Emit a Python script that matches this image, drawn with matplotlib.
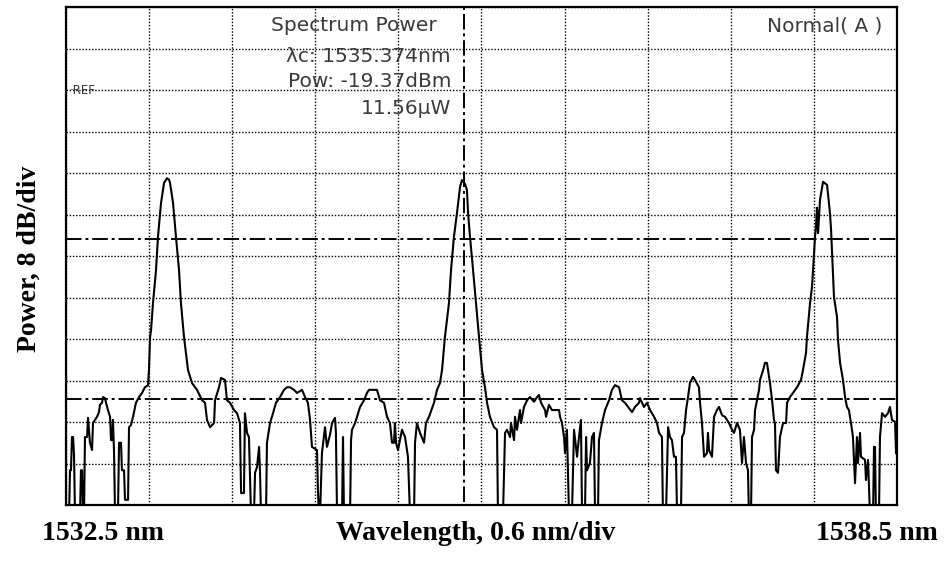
import matplotlib
matplotlib.use('Agg')
import matplotlib.pyplot as plt
import numpy as np

# OSA trace: wavelength (nm) and power (dBm), -84 = below display floor
wavelength = [
    1532.500, 1532.522, 1532.529, 1532.536, 1532.543, 1532.551, 1532.558, 1532.565, 1532.601, 1532.608,
    1532.616, 1532.623, 1532.630, 1532.637, 1532.652, 1532.659, 1532.673, 1532.688, 1532.695, 1532.709,
    1532.724, 1532.738, 1532.745, 1532.760, 1532.767, 1532.782, 1532.789, 1532.803, 1532.818, 1532.825,
    1532.832, 1532.839, 1532.847, 1532.854, 1532.875, 1532.883, 1532.897, 1532.904, 1532.919, 1532.926,
    1532.948, 1532.955, 1532.969, 1532.984, 1533.005, 1533.027, 1533.049, 1533.070, 1533.092, 1533.099,
    1533.107, 1533.114, 1533.128, 1533.150, 1533.164, 1533.186, 1533.208, 1533.229, 1533.244, 1533.251,
    1533.273, 1533.294, 1533.316, 1533.330, 1533.352, 1533.381, 1533.410, 1533.446, 1533.482, 1533.504,
    1533.518, 1533.540, 1533.569, 1533.576, 1533.605, 1533.619, 1533.648, 1533.662, 1533.684, 1533.713,
    1533.735, 1533.756, 1533.764, 1533.785, 1533.792, 1533.807, 1533.821, 1533.829, 1533.836, 1533.857,
    1533.865, 1533.879, 1533.894, 1533.901, 1533.908, 1533.944, 1533.951, 1533.973, 1533.995, 1534.016,
    1534.045, 1534.074, 1534.096, 1534.117, 1534.146, 1534.168, 1534.204, 1534.226, 1534.247, 1534.262,
    1534.276, 1534.312, 1534.319, 1534.327, 1534.334, 1534.348, 1534.370, 1534.384, 1534.406, 1534.421,
    1534.442, 1534.449, 1534.457, 1534.493, 1534.500, 1534.507, 1534.551, 1534.558, 1534.565, 1534.587,
    1534.601, 1534.623, 1534.652, 1534.673, 1534.688, 1534.745, 1534.767, 1534.796, 1534.818, 1534.839,
    1534.854, 1534.868, 1534.875, 1534.883, 1534.897, 1534.926, 1534.948, 1534.969, 1534.984, 1535.013,
    1535.020, 1535.034, 1535.056, 1535.085, 1535.099, 1535.121, 1535.157, 1535.179, 1535.200, 1535.215,
    1535.236, 1535.265, 1535.280, 1535.301, 1535.323, 1535.345, 1535.359, 1535.381, 1535.395, 1535.403,
    1535.417, 1535.439, 1535.460, 1535.482, 1535.504, 1535.525, 1535.540, 1535.561, 1535.590, 1535.612,
    1535.619, 1535.655, 1535.670, 1535.684, 1535.706, 1535.713, 1535.735, 1535.742, 1535.756, 1535.778,
    1535.785, 1535.807, 1535.829, 1535.850, 1535.879, 1535.901, 1535.915, 1535.930, 1535.959, 1535.966,
    1535.987, 1536.009, 1536.060, 1536.067, 1536.081, 1536.096, 1536.103, 1536.117, 1536.132, 1536.153,
    1536.168, 1536.190, 1536.204, 1536.218, 1536.226, 1536.247, 1536.255, 1536.262, 1536.283, 1536.298,
    1536.312, 1536.320, 1536.341, 1536.348, 1536.370, 1536.392, 1536.421, 1536.442, 1536.464, 1536.493,
    1536.514, 1536.536, 1536.587, 1536.608, 1536.637, 1536.644, 1536.673, 1536.695, 1536.717, 1536.746,
    1536.767, 1536.782, 1536.803, 1536.810, 1536.832, 1536.847, 1536.861, 1536.875, 1536.890, 1536.904,
    1536.912, 1536.940, 1536.948, 1536.962, 1536.977, 1536.991, 1537.005, 1537.027, 1537.042, 1537.070,
    1537.078, 1537.092, 1537.107, 1537.128, 1537.135, 1537.143, 1537.164, 1537.179, 1537.200, 1537.215,
    1537.237, 1537.258, 1537.287, 1537.309, 1537.323, 1537.345, 1537.366, 1537.381, 1537.395, 1537.410,
    1537.424, 1537.431, 1537.446, 1537.453, 1537.468, 1537.475, 1537.504, 1537.511, 1537.533, 1537.547,
    1537.561, 1537.569, 1537.583, 1537.598, 1537.612, 1537.619, 1537.626, 1537.641, 1537.655, 1537.677,
    1537.699, 1537.706, 1537.727, 1537.749, 1537.778, 1537.807, 1537.821, 1537.843, 1537.850, 1537.872,
    1537.886, 1537.894, 1537.901, 1537.908, 1537.915, 1537.922, 1537.930, 1537.944, 1537.966, 1537.995,
    1538.009, 1538.016, 1538.024, 1538.031, 1538.038, 1538.045, 1538.067, 1538.074, 1538.089, 1538.110,
    1538.125, 1538.139, 1538.153, 1538.175, 1538.182, 1538.197, 1538.211, 1538.218, 1538.233, 1538.240,
    1538.269, 1538.276, 1538.291, 1538.305, 1538.327, 1538.334, 1538.341, 1538.348, 1538.370, 1538.377,
    1538.392, 1538.413, 1538.435, 1538.449, 1538.464, 1538.486, 1538.493,
]
power = [
    -84, -84, -75.3, -75.3, -68.9, -68.9, -72.4, -84, -84, -75.3,
    -75.3, -84, -84, -68.9, -68.9, -65.2, -70.0, -71.4, -66.2, -65.6,
    -65.0, -64.1, -62.7, -62.3, -61.2, -61.4, -62.3, -63.7, -65.0, -69.5,
    -69.5, -65.6, -72.0, -84, -84, -70.0, -70.0, -75.3, -75.3, -81.0,
    -81.0, -67.0, -66.6, -65.0, -62.3, -61.2, -60.4, -59.3, -58.9, -56.0,
    -49.6, -48.3, -43.1, -36.7, -30.3, -23.8, -19.9, -19.0, -19.3, -19.9,
    -23.8, -30.3, -36.7, -43.1, -49.6, -56.0, -58.5, -59.8, -61.8, -62.3,
    -65.6, -67.0, -66.2, -61.8, -59.3, -57.5, -57.9, -61.8, -62.3, -63.7,
    -64.3, -66.2, -79.7, -79.7, -64.3, -68.1, -68.9, -77.2, -84, -84,
    -75.8, -74.7, -70.8, -75.8, -84, -84, -70.0, -66.2, -64.3, -62.3,
    -61.2, -59.8, -59.3, -59.3, -59.8, -60.4, -59.8, -61.2, -62.3, -65.6,
    -70.8, -71.4, -79.1, -84, -84, -72.0, -67.0, -70.8, -68.5, -66.2,
    -65.2, -68.1, -84, -84, -68.9, -84, -84, -69.5, -67.5, -66.2,
    -65.0, -63.1, -61.8, -60.4, -59.8, -59.8, -61.8, -62.3, -65.0, -66.2,
    -70.0, -70.0, -66.2, -70.0, -71.4, -67.5, -68.9, -72.7, -84, -84,
    -70.0, -66.2, -68.1, -70.0, -66.2, -65.0, -62.3, -59.8, -58.5, -56.0,
    -49.6, -43.1, -36.7, -30.3, -25.7, -20.7, -19.37, -20.1, -21.3, -25.7,
    -30.3, -36.7, -43.1, -49.6, -56.0, -59.3, -62.3, -65.0, -67.0, -67.5,
    -84, -84, -68.1, -67.5, -68.9, -66.2, -69.5, -65.0, -67.5, -63.7,
    -66.2, -63.1, -61.8, -61.2, -62.1, -61.2, -60.8, -62.3, -63.7, -65.0,
    -62.7, -63.7, -63.7, -65.0, -66.2, -68.9, -72.0, -67.5, -84, -84,
    -67.5, -72.7, -68.9, -65.6, -84, -84, -68.9, -75.3, -73.9, -68.9,
    -68.1, -84, -84, -69.5, -66.2, -63.7, -61.8, -59.8, -58.9, -59.3,
    -61.8, -62.3, -64.1, -63.1, -62.3, -61.4, -63.1, -62.3, -63.7, -65.0,
    -66.2, -68.1, -68.9, -84, -84, -67.0, -68.9, -69.5, -72.7, -72.7,
    -84, -84, -68.9, -68.1, -63.7, -61.2, -58.5, -57.3, -57.9, -59.3,
    -62.3, -66.2, -72.7, -72.0, -68.1, -71.4, -72.7, -65.0, -63.7, -63.1,
    -64.7, -65.0, -66.2, -67.5, -68.1, -66.2, -67.5, -73.9, -68.9, -73.9,
    -75.3, -84, -84, -68.9, -67.5, -63.7, -59.8, -57.9, -56.0, -54.6,
    -54.6, -56.0, -58.5, -61.8, -65.6, -66.2, -75.3, -75.8, -68.9, -66.2,
    -66.2, -62.3, -61.2, -60.4, -59.3, -57.9, -56.0, -52.7, -49.6, -43.1,
    -40.0, -36.7, -33.4, -30.3, -28.4, -24.7, -29.6, -23.2, -19.7, -20.3,
    -23.8, -25.7, -29.0, -33.4, -38.0, -41.9, -45.8, -50.2, -54.6, -57.9,
    -61.2, -63.1, -63.7, -67.5, -68.9, -77.8, -68.9, -73.9, -68.1, -72.7,
    -73.3, -77.2, -73.3, -84, -84, -70.8, -70.8, -84, -84, -68.9,
    -64.3, -65.0, -64.3, -63.1, -65.6, -66.0, -72.0,
]

start_wl, stop_wl = 1532.5, 1538.5
nm_per_div = 0.6
db_per_div = 8
ref_level = -2.0            # dBm, second grid line from the top
threshold_levels = [-30.7, -61.6]
marker_wl = 1535.374
marker_lines = ['Spectrum Power', 'λc: 1535.374nm', 'Pow: -19.37dBm', '11.56μW']

fig = plt.figure(figsize=(9.46, 5.61), dpi=100)
ax = fig.add_axes([66 / 946, 56 / 561, 831 / 946, 498 / 561])

ax.plot(wavelength, power, color='black', lw=1.5, zorder=3)

ax.set_xlim(start_wl, stop_wl)
ax.set_ylim(ref_level - 10 * db_per_div, ref_level + 2 * db_per_div)
ax.set_xticks(start_wl + nm_per_div * np.arange(11))
ax.set_yticks(ref_level - 10 * db_per_div + db_per_div * np.arange(13))
ax.grid(True, color='black', linestyle=(0, (1, 1.3)), lw=1.0)
ax.set_axisbelow(True)
ax.tick_params(length=0, labelbottom=False, labelleft=False)
for s in ax.spines.values():
    s.set_linewidth(1.6)

dashdot = (0, (8, 2, 1.5, 2))
for lvl in threshold_levels:
    ax.axhline(lvl, color='black', lw=1.4, linestyle=dashdot, zorder=2)
ax.axvline(marker_wl, ymin=0.006, color='black', lw=1.4, linestyle=dashdot, zorder=2)

# on-screen annotations of the analyser
lcd = dict(family='DejaVu Sans', fontsize=14.5, color='#3a3a3a', transform=ax.transAxes, va='center')
ax.text(0.4465, 0.963, marker_lines[0], ha='right', **lcd)
ax.text(0.4633, 0.901, marker_lines[1], ha='right', **lcd)
ax.text(0.4633, 0.851, marker_lines[2], ha='right', **lcd)
ax.text(0.4633, 0.797, marker_lines[3], ha='right', **lcd)
ax.text(0.983, 0.961, 'Normal( A )', ha='right', **lcd)
ax.text(0.004, 0.833, '·REF', ha='left', va='center', fontsize=8.5, color='#333333',
        transform=ax.transAxes, family='DejaVu Sans')

lab = dict(family='Liberation Serif', fontweight='bold', fontsize=20, color='black')
fig.text(29 / 946, 1 - 259 / 561, 'Power, 8 dB/div', rotation=90, ha='center', va='center', **lab)
fig.text(103 / 946, 1 - 534 / 561, '1532.5 nm', ha='center', va='center', **lab)
fig.text(476 / 946, 1 - 534 / 561, 'Wavelength, 0.6 nm/div', ha='center', va='center', **lab)
fig.text(877 / 946, 1 - 534 / 561, '1538.5 nm', ha='center', va='center', **lab)

fig.savefig('out.png', dpi=100)
